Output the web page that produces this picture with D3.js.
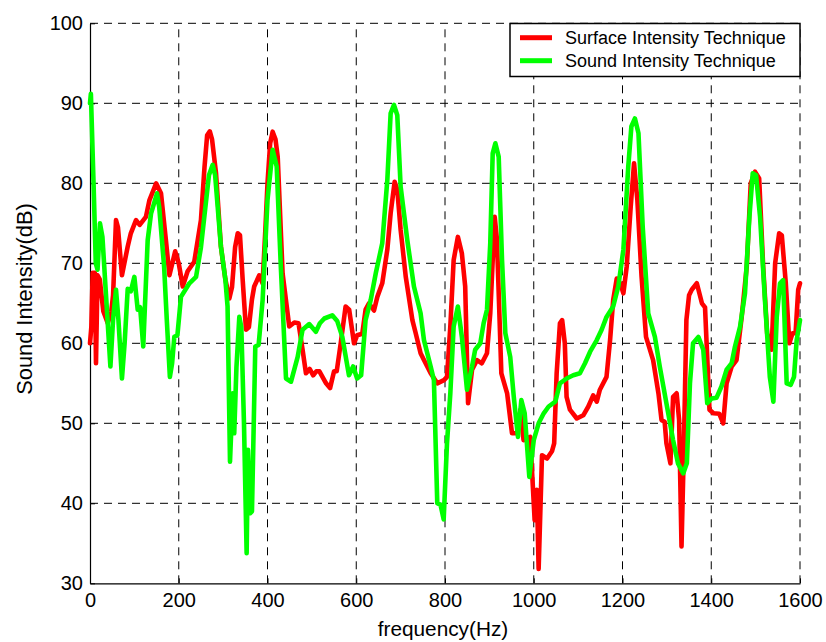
<!DOCTYPE html>
<html>
<head>
<meta charset="utf-8">
<script src="https://cdn.jsdelivr.net/npm/d3@7"></script>
<style>
  html, body { margin: 0; padding: 0; background: #fff; }
  svg { display: block; font-family: "Liberation Sans", Arial, sans-serif; }
</style>
</head>
<body>
<svg id="chart" width="826" height="642"></svg>
<script>
// Surface intensity measurement (Hz, dB)
const surfaceFreq = [0,3,6,11,13.5,17,22,30,40,48,52,58.6,63,72,85,92,103.7,112,126,134,149,160,171,179,192,200,209,220,235,250,258,264,270,275,284,295,305,314,320,327,333,338,344,351.5,358,365,370,381.5,389,395,400,406,411.6,418,423,434,449,460.5,470,479,486.7,495,503,510,517,532,541,550,556,565,576,584,595,602,613.6,621,628.7,640,647.5,658.6,670,677.5,686.5,692.5,700,711.6,726.5,734,745,752.6,767.7,782.6,797.7,804.5,812,819.5,829,838,845.5,852,861,872,883,894.6,902,912,917,927,940,951,962,970,977,992,1002,1007,1011,1018.6,1030,1041,1046,1051.6,1059,1064,1070,1074,1081.5,1097,1111.6,1123,1134,1142,1149,1164,1172,1179,1187,1195,1202,1209.5,1218.5,1226,1233.5,1243,1253,1269,1281,1288,1295,1299,1308,1314,1322,1327.6,1333,1338,1344,1350,1356,1367.5,1379,1386,1396,1405,1418,1427,1434.6,1446,1457,1468.6,1480,1489,1498.5,1508,1517,1526,1536,1544,1553,1559,1568,1576,1583,1590,1596,1600];
const surfaceDb = [60,62,68.8,68.8,57.5,68.5,68,64,62.5,64,66,75.4,74.5,68.5,72.1,73.75,75.4,74.8,75.8,77.9,80,78.75,72.9,68.5,71.5,70,67.1,69,70.2,75.4,82,86,86.5,85.5,81.25,72.1,68,65.6,67,72,73.75,73.5,68,61.7,62,65.5,67.1,68.5,67.5,74,80,85,86.45,85.5,83.3,68.75,62.1,62.6,62.5,59.2,56.25,56.8,56,56.5,56.5,55,54.4,56.5,56.5,60,64.6,64.2,60,61,61.2,64.2,65,64.1,65.8,67.5,71.7,76.25,80.2,79.2,74.2,68.3,62.9,61.25,58.75,57.9,56.25,55,55.4,55.8,62.1,70.4,73.3,71.25,67.1,52.5,56.7,57.9,57.5,58.75,63.75,75.8,73,56.25,53.75,48.75,48.75,51.7,47.9,48.3,37.9,41.7,31.8,46,45.6,46.5,47.5,56.25,62.5,62.9,60,53.3,51.7,50.6,51,52.1,53.5,52.7,54.2,55.8,60.4,65.4,68.1,67.5,66.25,69.6,77.1,82.5,77.9,68.3,60.8,57.9,53.75,50.4,50.2,47.5,45,53.3,53.75,50.4,34.6,46.25,62.9,66,66.7,67.5,65,64.5,51.7,51.25,51.2,50,55,57.1,57.9,63.3,69.6,80,81.45,80.6,69.6,61.25,59.2,70,73.75,73.5,67.5,60,61.25,61.25,66.7,67.5];

// Sound intensity measurement (Hz, dB)
const soundFreq = [0,2,8,13,17,22.5,28,35,46,52,58.6,64,72,78,85,92,100,107.5,113,120,130,137.5,146,151,156,167,173,180,185,190,197,205,224,239,250,261,268,276.5,282,295,305,310,315.5,321.6,325,330,336.5,341,347,353,356,360.6,365,372.5,380,389,400,411.6,420.7,430,441.7,453,468,479,494,509,518,528,546,557,568.6,583.6,593,602,611,621,632.5,644,658.6,670,677.5,685,692.5,700,715,730,745,752.6,767.7,775,782.6,790,797,804.5,812,819.5,829,838,849.6,861,868,879.5,887,894.6,902,907.5,913.5,921,928.5,936,947,955,964.5,972,979.6,990,1000,1011,1022.5,1033.6,1048.6,1059,1074,1089,1104,1115.5,1127,1142,1153,1164,1179,1190.5,1202,1213,1220,1228,1236,1245.5,1258,1273,1284,1299,1314,1325,1337,1345,1352,1359,1371,1382,1391,1401,1412,1423,1434.6,1446,1453.5,1465,1476,1486,1493.5,1501,1510,1521,1532,1540,1547.6,1555,1562,1570,1579,1586.5,1592.5,1600];
const soundDb = [90,91.2,80,70,69.2,75,73.3,67,57.1,63,66.7,63,55.6,60,66.8,66.5,68.3,64.2,64.5,59.6,72.9,76.2,77.8,78.75,77,69.6,63,55.8,57.5,60.8,61,65.8,67.5,68.3,72,77.5,81,82.3,81,72.1,68,64.6,45.2,53.75,48.75,57,63.3,62,50,33.75,46.7,38.75,39,59.6,59.8,65.4,77.9,84.2,82.1,69.6,55.6,55.2,58.3,61.7,62.4,61.45,62.5,63.1,63.5,62.8,60.8,56,57.1,55.6,56,62.9,65.4,68.75,72.5,80.4,88.75,89.8,88.5,79.6,72.9,67.1,63.75,60.4,57.1,55.4,40,39.8,38,47.5,53.75,62.1,64.6,60.8,54.2,57.1,59.2,60,62.5,64.2,72.5,83.75,85,83.3,70.4,61.25,58.3,53.3,48.3,52.9,51.25,43.3,47.9,50,51.25,52.1,52.7,55,55.6,56,56.25,57.5,58.95,60.4,61.7,63.3,64.6,67.1,71.7,82.1,87.1,88.1,86.25,74.6,63.75,60.8,57.1,52.5,47.9,45,43.75,45,55,60,60.8,59.2,52.5,53.1,53.2,54.6,56.7,57.5,59.6,62.1,66.25,75.8,81.25,81,75.8,65.4,55.8,52.7,63.3,67.5,67.9,55,54.8,55.8,60.4,62.9];

const xTicks = [0,200,400,600,800,1000,1200,1400,1600];
const yTicks = [30,40,50,60,70,80,90,100];
const seriesNames = ["Surface Intensity Technique", "Sound Intensity Technique"];
const seriesColors = ["#ff0000", "#00ff00"];

const svg = d3.select("#chart");
const plotLeft = 90, plotRight = 800, plotTop = 23.3, plotBottom = 583.3;

const x = d3.scaleLinear().domain([0, 1600]).range([plotLeft, plotRight]);
const y = d3.scaleLinear().domain([30, 100]).range([plotBottom, plotTop]);

// dashed grid
const grid = svg.append("g").attr("stroke", "#000").attr("stroke-width", 1)
  .attr("stroke-dasharray", "8,6");
grid.selectAll("line.gx").data(xTicks.filter(d => d > 0)).join("line")
  .attr("class", "gx")
  .attr("x1", d => x(d)).attr("x2", d => x(d))
  .attr("y1", plotBottom).attr("y2", plotTop);
grid.selectAll("line.gy").data(yTicks.filter(d => d > 30)).join("line")
  .attr("class", "gy")
  .attr("x1", plotLeft).attr("x2", plotRight)
  .attr("y1", d => y(d)).attr("y2", d => y(d));

// axes
const fmt = d3.format("d");
const xAxis = svg.append("g").attr("transform", `translate(0,${plotBottom})`)
  .call(d3.axisBottom(x).tickValues(xTicks).tickFormat(fmt)
    .tickSizeInner(-5).tickSizeOuter(0).tickPadding(10));
const yAxis = svg.append("g").attr("transform", `translate(${plotLeft},0)`)
  .call(d3.axisLeft(y).tickValues(yTicks).tickFormat(fmt)
    .tickSizeInner(-5).tickSizeOuter(0).tickPadding(7));
[xAxis, yAxis].forEach(g => {
  g.selectAll("text").attr("font-size", 20).attr("fill", "#000")
    .attr("font-family", '"Liberation Sans", Arial, sans-serif');
  g.selectAll("line").attr("stroke", "#000");
  g.select(".domain").attr("stroke", "#000").attr("stroke-width", 1.2);
});

// series lines
const line = d3.line().x(d => x(d[0])).y(d => y(d[1]));
const surfaceData = d3.zip(surfaceFreq, surfaceDb);
const soundData = d3.zip(soundFreq, soundDb);
[surfaceData, soundData].forEach((data, i) => {
  svg.append("path").datum(data)
    .attr("fill", "none")
    .attr("stroke", seriesColors[i])
    .attr("stroke-width", 4.6)
    .attr("stroke-linejoin", "round")
    .attr("stroke-linecap", "round")
    .attr("d", line);
});

// axis titles
svg.append("text")
  .attr("x", (plotLeft + plotRight) / 2 - 2).attr("y", 636)
  .attr("text-anchor", "middle").attr("font-size", 20.8).attr("fill", "#000")
  .text("frequency(Hz)");
svg.append("text")
  .attr("transform", "translate(32,299) rotate(-90)")
  .attr("text-anchor", "middle").attr("font-size", 21.8).attr("fill", "#000")
  .text("Sound Intensity(dB)");

// legend
const legend = svg.append("g");
legend.append("rect")
  .attr("x", 510).attr("y", 23.5).attr("width", 290).attr("height", 53)
  .attr("fill", "#fff").attr("stroke", "#000").attr("stroke-width", 1.5);
seriesNames.forEach((name, i) => {
  const cy = 37.7 + i * 23;
  legend.append("line")
    .attr("x1", 520).attr("x2", 552).attr("y1", cy).attr("y2", cy)
    .attr("stroke", seriesColors[i]).attr("stroke-width", 5);
  legend.append("text")
    .attr("x", 565).attr("y", cy).attr("dy", "0.35em")
    .attr("font-size", 18).attr("fill", "#000")
    .text(name);
});
</script>
</body>
</html>
